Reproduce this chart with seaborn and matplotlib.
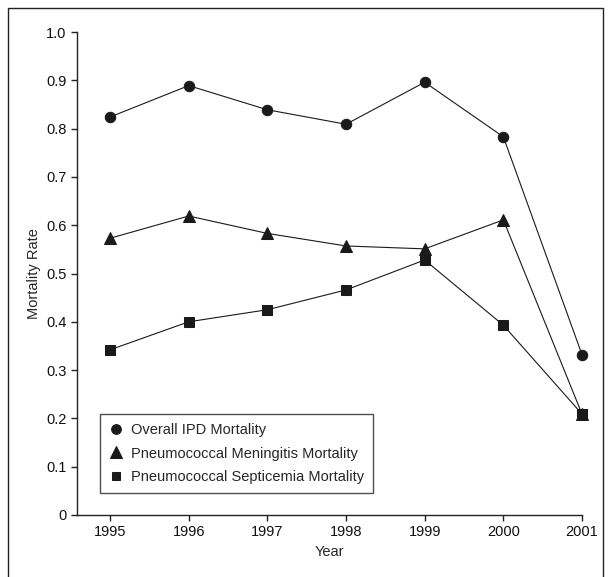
import pandas as pd
import numpy as np
import matplotlib
matplotlib.use("Agg")
import matplotlib.pyplot as plt
import seaborn as sns
from matplotlib.patches import Rectangle

years = [1995, 1996, 1997, 1998, 1999, 2000, 2001]
overall = [0.824, 0.889, 0.839, 0.809, 0.896, 0.783, 0.332]
meningitis = [0.573, 0.619, 0.583, 0.557, 0.551, 0.611, 0.209]
septicemia = [0.342, 0.400, 0.425, 0.466, 0.528, 0.393, 0.209]
series_names = ["Overall IPD Mortality",
                "Pneumococcal Meningitis Mortality",
                "Pneumococcal Septicemia Mortality"]

df = pd.DataFrame({
    "Year": years * 3,
    "Mortality Rate": overall + meningitis + septicemia,
    "Series": np.repeat(series_names, len(years)),
})

sns.set_style("ticks")
plt.rcParams["font.family"] = ["Liberation Sans", "DejaVu Sans"]

fig = plt.figure(figsize=(6.11, 5.77), dpi=100)
ax = fig.add_axes([77 / 611, 1 - 515 / 577, 505 / 611, 483 / 577])

# outer frame around the whole figure
fig.patches.append(Rectangle((8 / 611, -0.02), 595 / 611, 1 - 8 / 577 + 0.02,
                             transform=fig.transFigure, fill=False,
                             edgecolor="#222222", linewidth=1.0))

sns.lineplot(data=df, x="Year", y="Mortality Rate", hue="Series", style="Series",
             palette=["#1a1a1a"] * 3, markers=["o", "^", "s"], dashes=False,
             markersize=7.5, linewidth=0.8, markeredgecolor="#1a1a1a", ax=ax)

# per-series marker sizes, markers at the axis edge not clipped
# triangles drawn over the squares (they overlap in 2001)
for line, ms, z in zip(ax.lines[:3], [7.5, 8.5, 6.5], [3, 4, 2]):
    line.set_markersize(ms)
    line.set_clip_on(False)
    line.set_zorder(z)

ax.set_xlim(1994.58, 2001)
ax.set_ylim(0, 1.0)
ax.set_xticks(years)
ax.set_yticks(np.arange(0, 1.01, 0.1))
ax.set_yticklabels(["0"] + [f"{v:.1f}" for v in np.arange(0.1, 1.01, 0.1)])
ax.tick_params(labelsize=10.5, length=4, width=1, colors="#222222", labelcolor="#111111")
ax.set_xlabel("Year", fontsize=10.5)
ax.set_ylabel("Mortality Rate", fontsize=10.5)
sns.despine(ax=ax)
for s in ["left", "bottom"]:
    ax.spines[s].set_linewidth(1.0)
    ax.spines[s].set_color("#222222")

leg = ax.legend(loc="lower left", bbox_to_anchor=(0.046, 0.046), fontsize=10.5,
                frameon=True, fancybox=False, edgecolor="#222222",
                handlelength=1.0, handletextpad=0.5, borderpad=0.6, labelspacing=0.65,
                borderaxespad=0)
leg.get_frame().set_linewidth(1.0)
leg.set_zorder(5)
for h, ms in zip(leg.legend_handles, [7, 8, 6]):
    h.set_linestyle("none")
    h.set_markersize(ms)

fig.savefig("out.png", dpi=100)
